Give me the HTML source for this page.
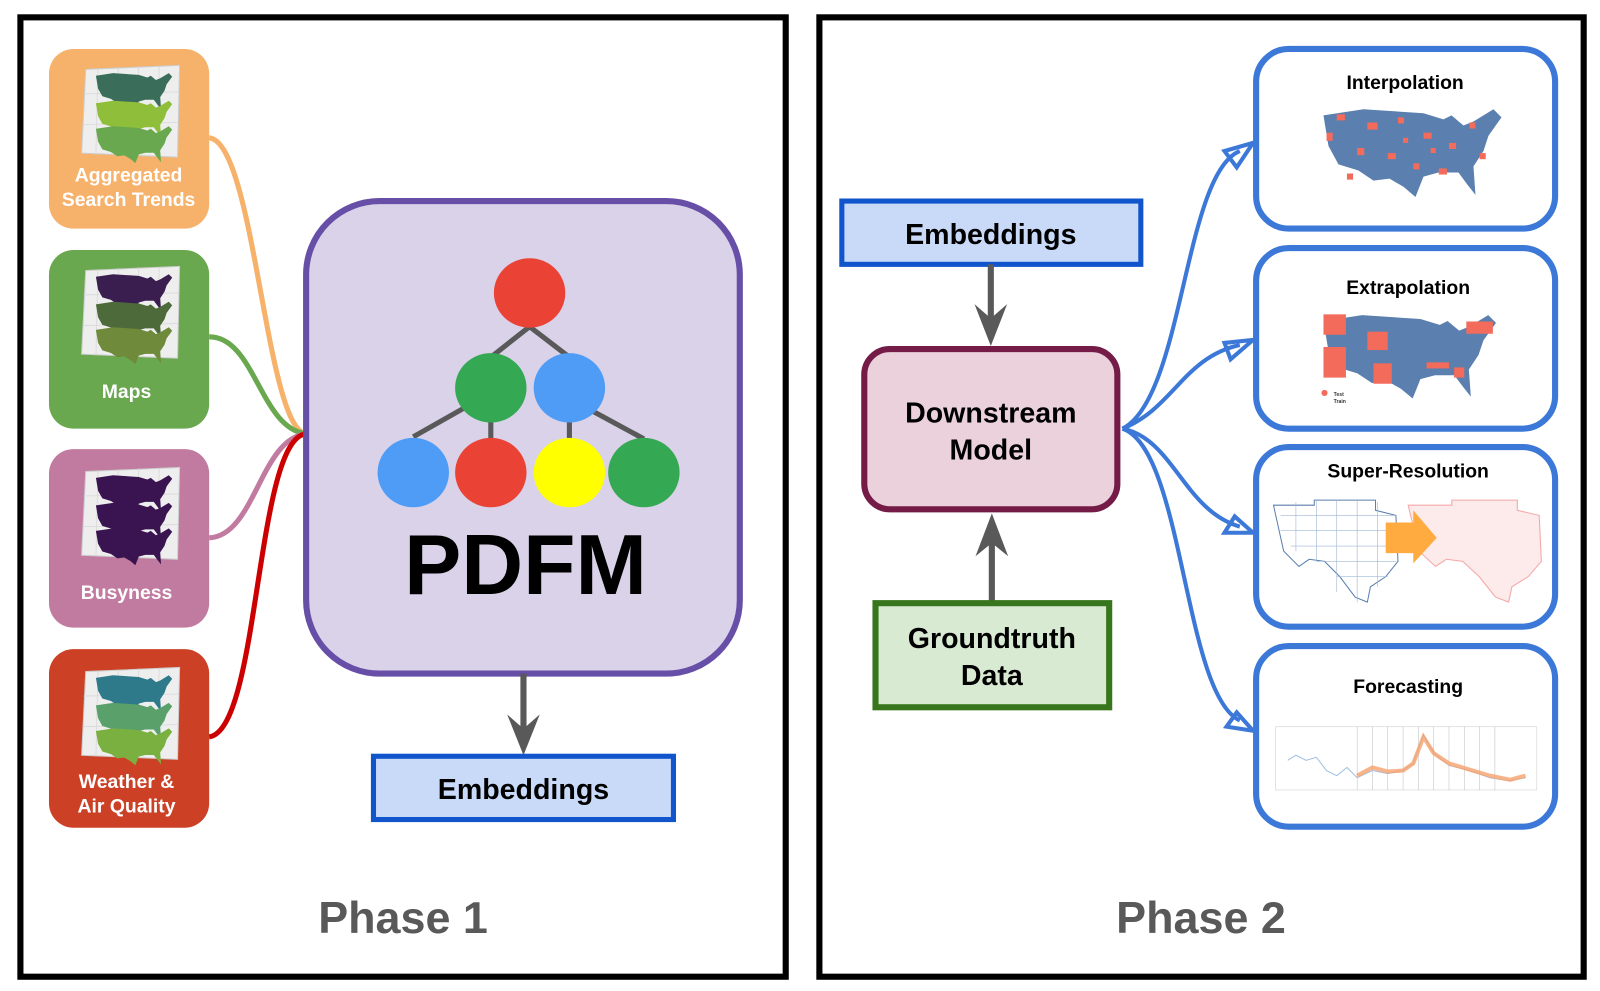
<!DOCTYPE html>
<html><head><meta charset="utf-8"><style>
html,body{margin:0;padding:0;background:#fff;}
svg{display:block;}
text{font-family:"Liberation Sans",sans-serif;font-weight:bold;}
</style></head><body>
<svg width="1600" height="991" viewBox="0 0 1568 971" preserveAspectRatio="none" xmlns="http://www.w3.org/2000/svg">
<defs>
<path id="us" d="M0,10 L40,4 L100,8 L120,14 L128,10 L140,20 L150,16 L170,4 L178,12 L165,30 L160,45 L150,60 L152,88 L144,78 L135,66 L115,66 L100,70 L92,90 L80,80 L66,72 L50,74 L35,64 L15,58 L5,40 Z"/>
<path id="tx" d="M0,5 L40,5 L40,0 L100,0 L100,10 L120,15 L122,60 L110,75 L95,85 L92,100 L80,95 L65,75 L50,60 L35,58 L25,65 L10,50 Z"/>
<g id="thumb">
<polygon points="8,6 100,2 98,92 4,88" fill="#eeeeee" stroke="#cccccc"/>
<g stroke="#d8d8d8" stroke-width="0.8"><line x1="20" y1="5" x2="18" y2="89"/><line x1="40" y1="4" x2="38" y2="90"/><line x1="60" y1="3" x2="58" y2="90"/><line x1="80" y1="3" x2="78" y2="91"/><line x1="6" y1="30" x2="99" y2="28"/><line x1="6" y1="60" x2="98" y2="58"/></g>
</g>
</defs>
<!-- panels -->
<rect x="20" y="17" width="750" height="940" fill="#fff" stroke="#000" stroke-width="6"/>
<rect x="803" y="17" width="749" height="940" fill="#fff" stroke="#000" stroke-width="6"/>

<!-- connectors left -->
<g fill="none" stroke-width="5">
<path d="M205,135 C250,140 260,420 300,425" stroke="#f6b26b"/>
<path d="M205,330 C250,330 255,420 300,425" stroke="#6aa84f"/>
<path d="M205,527 C250,525 255,430 300,425" stroke="#c27ba0"/>
<path d="M205,722 C255,715 250,430 300,425" stroke="#cc0000"/>
</g>

<!-- source boxes -->
<rect x="48" y="48" width="157" height="176" rx="24" fill="#f6b26b"/>
<rect x="48" y="245" width="157" height="175" rx="24" fill="#6aa84f"/>
<rect x="48" y="440" width="157" height="175" rx="24" fill="#c27ba0"/>
<rect x="48" y="636" width="157" height="175" rx="24" fill="#cc4125"/>
<g transform="translate(76,62)"><use href="#thumb"/>
<g transform="translate(18,8) scale(0.42)"><use href="#us" fill="#3b6e5a"/></g>
<g transform="translate(18,35) scale(0.42)"><use href="#us" fill="#8fbf3a"/></g>
<g transform="translate(18,60) scale(0.42)"><use href="#us" fill="#6aa84f"/></g></g>
<g transform="translate(76,259)"><use href="#thumb"/>
<g transform="translate(18,8) scale(0.42)"><use href="#us" fill="#3a1e4f"/></g>
<g transform="translate(18,35) scale(0.42)"><use href="#us" fill="#4d6a3a"/></g>
<g transform="translate(18,60) scale(0.42)"><use href="#us" fill="#6e8a3a"/></g></g>
<g transform="translate(76,456)"><use href="#thumb"/>
<g transform="translate(18,8) scale(0.42)"><use href="#us" fill="#3a1450"/></g>
<g transform="translate(18,35) scale(0.42)"><use href="#us" fill="#3a1450"/></g>
<g transform="translate(18,60) scale(0.42)"><use href="#us" fill="#3a1450"/></g></g>
<g transform="translate(76,652)"><use href="#thumb"/>
<g transform="translate(18,8) scale(0.42)"><use href="#us" fill="#2e7a8a"/></g>
<g transform="translate(18,35) scale(0.42)"><use href="#us" fill="#5aa06a"/></g>
<g transform="translate(18,60) scale(0.42)"><use href="#us" fill="#7ab040"/></g></g>
<g fill="#fff" font-size="19" text-anchor="middle">
<text x="126" y="178">Aggregated</text>
<text x="126" y="202">Search Trends</text>
<text x="124" y="390">Maps</text>
<text x="124" y="587">Busyness</text>
<text x="124" y="772">Weather &amp;</text>
<text x="124" y="796">Air Quality</text>
</g>

<!-- PDFM -->
<rect x="300" y="197" width="425" height="463" rx="72" fill="#d9d2e9" stroke="#674ea7" stroke-width="6"/>
<g stroke="#595959" stroke-width="5">
<line x1="519" y1="320" x2="481" y2="350"/><line x1="519" y1="320" x2="558" y2="350"/>
<line x1="458" y1="398" x2="405" y2="428"/><line x1="481" y1="410" x2="481" y2="432"/>
<line x1="558" y1="410" x2="558" y2="432"/><line x1="581" y1="403" x2="631" y2="430"/>
</g>
<ellipse cx="519" cy="287" rx="35" ry="34" fill="#ea4335"/>
<ellipse cx="481" cy="380" rx="35" ry="34" fill="#34a853"/>
<ellipse cx="558" cy="380" rx="35" ry="34" fill="#4f9cf7"/>
<ellipse cx="405" cy="463" rx="35" ry="34" fill="#4f9cf7"/>
<ellipse cx="481" cy="463" rx="35" ry="34" fill="#ea4335"/>
<ellipse cx="558" cy="463" rx="35" ry="34" fill="#ffff00"/>
<ellipse cx="631" cy="463" rx="35" ry="34" fill="#34a853"/>
<text x="515" y="582" font-size="84" text-anchor="middle" fill="#000">PDFM</text>

<line x1="513" y1="660" x2="513" y2="720" stroke="#595959" stroke-width="6"/>
<polygon points="497,700 513,740 529,700 513,714" fill="#595959"/>
<rect x="366" y="741" width="294" height="62" fill="#c9daf8" stroke="#1155cc" stroke-width="5"/>
<text x="513" y="783" font-size="28" text-anchor="middle">Embeddings</text>
<text x="395" y="914" font-size="44" text-anchor="middle" fill="#595959">Phase 1</text>

<!-- Phase 2 -->
<rect x="825" y="197" width="293" height="62" fill="#c9daf8" stroke="#1155cc" stroke-width="5"/>
<text x="971" y="239" font-size="28" text-anchor="middle">Embeddings</text>
<line x1="971" y1="259" x2="971" y2="320" stroke="#595959" stroke-width="6"/>
<polygon points="955,298 971,339 987,298 971,312" fill="#595959"/>
<rect x="847" y="342" width="248" height="157" rx="25" fill="#ead1dc" stroke="#741b47" stroke-width="6"/>
<text x="971" y="414" font-size="28" text-anchor="middle">Downstream</text>
<text x="971" y="450" font-size="28" text-anchor="middle">Model</text>
<line x1="972" y1="590" x2="972" y2="525" stroke="#595959" stroke-width="6"/>
<polygon points="956,545 972,503 988,545 972,532" fill="#595959"/>
<rect x="858" y="591" width="229" height="102" fill="#d9ead3" stroke="#38761d" stroke-width="6"/>
<text x="972" y="635" font-size="28" text-anchor="middle">Groundtruth</text>
<text x="972" y="671" font-size="28" text-anchor="middle">Data</text>

<!-- blue connectors -->
<g fill="none" stroke="#3c78d8" stroke-width="4">
<path d="M1100,420 C1160,390 1160,170 1215,148"/>
<path d="M1100,420 C1150,400 1160,350 1215,338"/>
<path d="M1100,420 C1150,430 1160,500 1215,516"/>
<path d="M1100,420 C1160,440 1160,680 1215,706"/>
<polygon points="1228,140 1200,148 1212,164" stroke-linejoin="miter"/>
<polygon points="1228,333 1200,336 1206,352"/>
<polygon points="1228,522 1210,506 1200,522"/>
<polygon points="1228,716 1212,698 1202,712"/>
</g>

<g fill="#fff" stroke="#3c78d8" stroke-width="6">
<rect x="1231" y="48" width="293" height="176" rx="32"/>
<rect x="1231" y="243" width="293" height="177" rx="32"/>
<rect x="1231" y="438" width="293" height="176" rx="32"/>
<rect x="1231" y="633" width="293" height="177" rx="32"/>
</g>
<g font-size="19" text-anchor="middle" fill="#000">
<text x="1377" y="87">Interpolation</text>
<text x="1380" y="288">Extrapolation</text>
<text x="1380" y="468">Super-Resolution</text>
<text x="1380" y="679">Forecasting</text>
</g>
<g transform="translate(1297,103) scale(0.98,1.0)"><use href="#us" fill="#5b7fae"/></g>
<g fill="#f26b5b">
<rect x="1310" y="112" width="8" height="6"/><rect x="1340" y="120" width="10" height="7"/><rect x="1370" y="115" width="6" height="6"/><rect x="1395" y="130" width="8" height="6"/><rect x="1420" y="140" width="7" height="6"/><rect x="1440" y="120" width="6" height="6"/><rect x="1360" y="150" width="8" height="6"/><rect x="1385" y="160" width="6" height="6"/><rect x="1410" y="165" width="8" height="6"/><rect x="1330" y="145" width="7" height="7"/><rect x="1300" y="130" width="6" height="8"/><rect x="1450" y="150" width="6" height="6"/><rect x="1320" y="170" width="6" height="6"/><rect x="1402" y="145" width="5" height="5"/><rect x="1375" y="135" width="5" height="5"/>
</g>
<g transform="translate(1297,305) scale(0.95,0.95)"><use href="#us" fill="#5b7fae"/></g>
<g fill="#f26b5b">
<rect x="1297" y="308" width="22" height="20"/><rect x="1340" y="325" width="20" height="18"/><rect x="1297" y="340" width="22" height="30"/><rect x="1346" y="356" width="18" height="20"/><rect x="1398" y="355" width="22" height="6"/><rect x="1425" y="360" width="10" height="10"/><rect x="1437" y="315" width="26" height="12"/>
<circle cx="1298" cy="385" r="3"/>
</g>
<text x="1307" y="388" font-size="5" font-weight="normal" fill="#333">Test</text>
<text x="1307" y="395" font-size="5" font-weight="normal" fill="#333">Train</text>
<g transform="translate(1248,490) scale(1.0,1.0)"><use href="#tx" fill="none" stroke="#5b7fae" stroke-width="1"/></g>
<g stroke="#9fb6d4" stroke-width="0.6">
<line x1="1255" y1="505" x2="1368" y2="505"/><line x1="1255" y1="520" x2="1368" y2="520"/><line x1="1265" y1="535" x2="1368" y2="535"/><line x1="1290" y1="550" x2="1368" y2="550"/><line x1="1310" y1="565" x2="1360" y2="565"/>
<line x1="1270" y1="492" x2="1270" y2="540"/><line x1="1290" y1="490" x2="1290" y2="550"/><line x1="1310" y1="490" x2="1310" y2="580"/><line x1="1330" y1="490" x2="1330" y2="590"/><line x1="1350" y1="492" x2="1350" y2="575"/>
</g>
<g transform="translate(1380,490) scale(1.07,1.0)"><use href="#tx" fill="#fdeaea" stroke="#f4a9a9" stroke-width="1"/></g>
<polygon points="1358,512 1385,512 1385,500 1408,527 1385,552 1385,542 1358,542" fill="#ffab40"/>
<rect x="1250" y="712" width="256" height="62" fill="#fff" stroke="#ddd" stroke-width="0.8"/>
<g stroke="#bbb" stroke-width="0.5">
<line x1="1330" y1="712" x2="1330" y2="774"/><line x1="1345" y1="712" x2="1345" y2="774"/><line x1="1360" y1="712" x2="1360" y2="774"/><line x1="1375" y1="712" x2="1375" y2="774"/><line x1="1390" y1="712" x2="1390" y2="774"/><line x1="1405" y1="712" x2="1405" y2="774"/><line x1="1420" y1="712" x2="1420" y2="774"/><line x1="1435" y1="712" x2="1435" y2="774"/><line x1="1450" y1="712" x2="1450" y2="774"/><line x1="1465" y1="712" x2="1465" y2="774"/>
</g>
<polyline points="1262,745 1270,740 1280,745 1290,742 1300,755 1310,760 1320,752 1330,762 1345,755 1360,758 1375,755 1385,748 1395,720 1405,738 1420,750 1440,755 1460,762 1480,765 1495,762" fill="none" stroke="#9ec0e0" stroke-width="1"/>
<polyline points="1330,760 1345,752 1360,756 1375,755 1385,748 1395,722 1405,738 1420,748 1440,754 1460,760 1480,764 1495,760" fill="none" stroke="#f6a06b" stroke-width="4" opacity="0.8"/>
<text x="1177" y="914" font-size="44" text-anchor="middle" fill="#595959">Phase 2</text>
</svg>
</body></html>
